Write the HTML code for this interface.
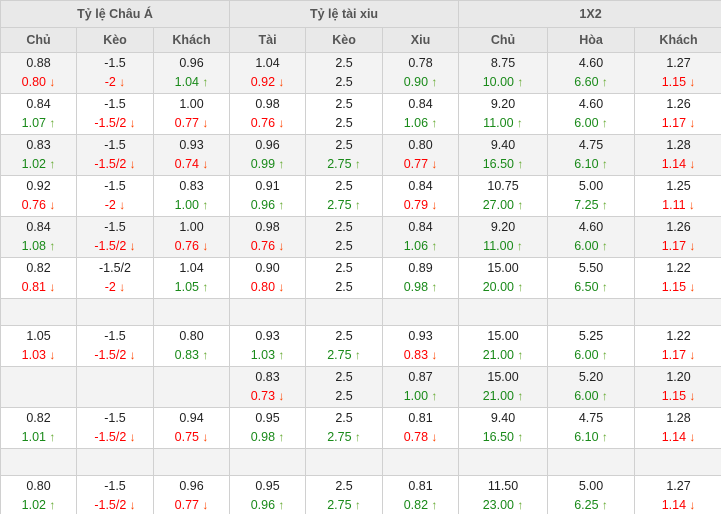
<!DOCTYPE html>
<html><head><meta charset="utf-8"><style>
html,body{margin:0;padding:0;background:#fff;width:721px;height:514px;overflow:hidden}
table{border-collapse:collapse;table-layout:fixed;width:722px;font-family:"Liberation Sans",sans-serif;font-size:12.5px;color:#222}
td,th{border:1px solid #d0d0d0;text-align:center;padding:0;line-height:19px;box-sizing:border-box}
th{background:#e9e9e9;color:#555;font-weight:bold;font-size:12.5px}
tr.h1 th{height:27px}
tr.h2 th{height:25px}
tr.r td{height:41px}
tr.e td{height:27px;background:#f3f3f3}
tr.g td{background:#f3f3f3}
i{font-style:normal}
i.d{color:#f00}
i.u{color:#1a8a1a}
i.d::after{content:" \2193";color:#f40;font-weight:bold;font-size:12px}
i.u::after{content:" \2191";color:#6a3;font-weight:bold;font-size:12px}
</style></head><body>
<table>
<colgroup><col style="width:76px"><col style="width:77px"><col style="width:76px"><col style="width:76px"><col style="width:77px"><col style="width:76px"><col style="width:89px"><col style="width:87px"><col style="width:88px"></colgroup>
<tr class="h1"><th colspan="3">Tỷ lệ Châu Á</th><th colspan="3">Tỷ lệ tài xiu</th><th colspan="3">1X2</th></tr>
<tr class="h2"><th>Chủ</th><th>Kèo</th><th>Khách</th><th>Tài</th><th>Kèo</th><th>Xiu</th><th>Chủ</th><th>Hòa</th><th>Khách</th></tr>
<tr class="r g"><td>0.88<br><i class="d">0.80</i></td><td>-1.5<br><i class="d">-2</i></td><td>0.96<br><i class="u">1.04</i></td><td>1.04<br><i class="d">0.92</i></td><td>2.5<br>2.5</td><td>0.78<br><i class="u">0.90</i></td><td>8.75<br><i class="u">10.00</i></td><td>4.60<br><i class="u">6.60</i></td><td>1.27<br><i class="d">1.15</i></td></tr>
<tr class="r"><td>0.84<br><i class="u">1.07</i></td><td>-1.5<br><i class="d">-1.5/2</i></td><td>1.00<br><i class="d">0.77</i></td><td>0.98<br><i class="d">0.76</i></td><td>2.5<br>2.5</td><td>0.84<br><i class="u">1.06</i></td><td>9.20<br><i class="u">11.00</i></td><td>4.60<br><i class="u">6.00</i></td><td>1.26<br><i class="d">1.17</i></td></tr>
<tr class="r g"><td>0.83<br><i class="u">1.02</i></td><td>-1.5<br><i class="d">-1.5/2</i></td><td>0.93<br><i class="d">0.74</i></td><td>0.96<br><i class="u">0.99</i></td><td>2.5<br><i class="u">2.75</i></td><td>0.80<br><i class="d">0.77</i></td><td>9.40<br><i class="u">16.50</i></td><td>4.75<br><i class="u">6.10</i></td><td>1.28<br><i class="d">1.14</i></td></tr>
<tr class="r"><td>0.92<br><i class="d">0.76</i></td><td>-1.5<br><i class="d">-2</i></td><td>0.83<br><i class="u">1.00</i></td><td>0.91<br><i class="u">0.96</i></td><td>2.5<br><i class="u">2.75</i></td><td>0.84<br><i class="d">0.79</i></td><td>10.75<br><i class="u">27.00</i></td><td>5.00<br><i class="u">7.25</i></td><td>1.25<br><i class="d">1.11</i></td></tr>
<tr class="r g"><td>0.84<br><i class="u">1.08</i></td><td>-1.5<br><i class="d">-1.5/2</i></td><td>1.00<br><i class="d">0.76</i></td><td>0.98<br><i class="d">0.76</i></td><td>2.5<br>2.5</td><td>0.84<br><i class="u">1.06</i></td><td>9.20<br><i class="u">11.00</i></td><td>4.60<br><i class="u">6.00</i></td><td>1.26<br><i class="d">1.17</i></td></tr>
<tr class="r"><td>0.82<br><i class="d">0.81</i></td><td>-1.5/2<br><i class="d">-2</i></td><td>1.04<br><i class="u">1.05</i></td><td>0.90<br><i class="d">0.80</i></td><td>2.5<br>2.5</td><td>0.89<br><i class="u">0.98</i></td><td>15.00<br><i class="u">20.00</i></td><td>5.50<br><i class="u">6.50</i></td><td>1.22<br><i class="d">1.15</i></td></tr>
<tr class="e"><td></td><td></td><td></td><td></td><td></td><td></td><td></td><td></td><td></td></tr>
<tr class="r"><td>1.05<br><i class="d">1.03</i></td><td>-1.5<br><i class="d">-1.5/2</i></td><td>0.80<br><i class="u">0.83</i></td><td>0.93<br><i class="u">1.03</i></td><td>2.5<br><i class="u">2.75</i></td><td>0.93<br><i class="d">0.83</i></td><td>15.00<br><i class="u">21.00</i></td><td>5.25<br><i class="u">6.00</i></td><td>1.22<br><i class="d">1.17</i></td></tr>
<tr class="r g"><td></td><td></td><td></td><td>0.83<br><i class="d">0.73</i></td><td>2.5<br>2.5</td><td>0.87<br><i class="u">1.00</i></td><td>15.00<br><i class="u">21.00</i></td><td>5.20<br><i class="u">6.00</i></td><td>1.20<br><i class="d">1.15</i></td></tr>
<tr class="r"><td>0.82<br><i class="u">1.01</i></td><td>-1.5<br><i class="d">-1.5/2</i></td><td>0.94<br><i class="d">0.75</i></td><td>0.95<br><i class="u">0.98</i></td><td>2.5<br><i class="u">2.75</i></td><td>0.81<br><i class="d">0.78</i></td><td>9.40<br><i class="u">16.50</i></td><td>4.75<br><i class="u">6.10</i></td><td>1.28<br><i class="d">1.14</i></td></tr>
<tr class="e"><td></td><td></td><td></td><td></td><td></td><td></td><td></td><td></td><td></td></tr>
<tr class="r"><td>0.80<br><i class="u">1.02</i></td><td>-1.5<br><i class="d">-1.5/2</i></td><td>0.96<br><i class="d">0.77</i></td><td>0.95<br><i class="u">0.96</i></td><td>2.5<br><i class="u">2.75</i></td><td>0.81<br><i class="u">0.82</i></td><td>11.50<br><i class="u">23.00</i></td><td>5.00<br><i class="u">6.25</i></td><td>1.27<br><i class="d">1.14</i></td></tr>
</table>
</body></html>
